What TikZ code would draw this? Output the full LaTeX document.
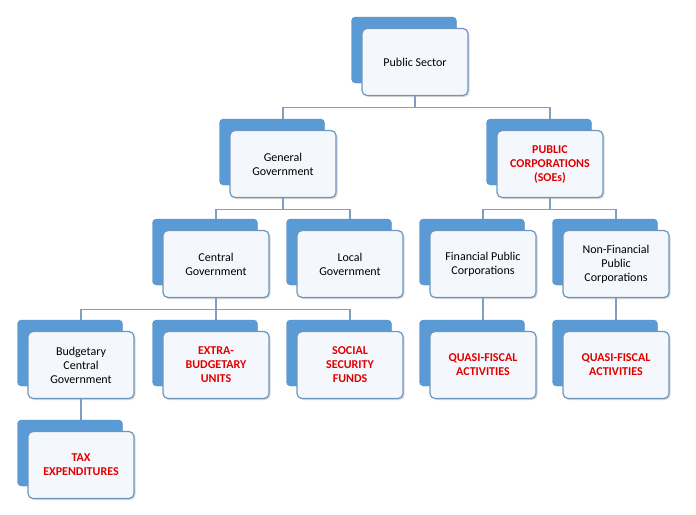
\documentclass[tikz,border=0pt]{standalone}
\usepackage{fontspec}
\setmainfont{Carlito}
\usetikzlibrary{positioning, shadows}
\definecolor{backblue}{HTML}{5B9BD5}
\definecolor{edgeblue}{HTML}{6E96BE}
\definecolor{linkblue}{HTML}{7F9FC0}
\definecolor{ssred}{HTML}{E00000}
\tikzset{
    back/.style={draw=backblue!90!black, fill=backblue, rounded corners=4pt,
        minimum width=105pt, minimum height=66pt},
    front/.style={draw=edgeblue, line width=1.2pt, fill=white!93!backblue, rounded corners=5pt,
        minimum width=106pt, minimum height=67pt, align=center, font=\fontsize{12}{14}\selectfont,
        drop shadow={shadow xshift=1.5pt, shadow yshift=-1.5pt, opacity=0.3}},
    hot/.style={text=ssred, font=\fontsize{12}{14}\selectfont\bfseries},
    link/.style={draw=linkblue, line width=1.2pt},
}
\newcommand{\orgbox}[5][]{%
    \node[back] (#2b) at (#3-11,#4-12) {};
    \node[front,#1] (#2) at (#3,#4) {#5};
}
\begin{document}
\begin{tikzpicture}[x=1pt,y=-1pt]
    \useasboundingbox (0,0) rectangle (696,514);
    \orgbox{ps}{415}{62}{Public Sector}
    \orgbox{gg}{283}{164}{General\\Government}
    \orgbox[hot]{pc}{550}{164}{PUBLIC\\CORPORATIONS\\(SOEs)}
    \orgbox{cg}{216}{264}{Central\\Government}
    \orgbox{lg}{350}{264}{Local\\Government}
    \orgbox{fpc}{483}{264}{Financial Public\\Corporations}
    \orgbox{nfpc}{616}{264}{Non-Financial\\Public\\Corporations}
    \orgbox{bcg}{81}{365}{Budgetary\\Central\\Government}
    \orgbox[hot]{ebu}{216}{365}{EXTRA-\\BUDGETARY\\UNITS}
    \orgbox[hot]{ssf}{350}{365}{SOCIAL\\SECURITY\\FUNDS}
    \orgbox[hot]{qf1}{483}{365}{QUASI-FISCAL\\ACTIVITIES}
    \orgbox[hot]{qf2}{616}{365}{QUASI-FISCAL\\ACTIVITIES}
    \orgbox[hot]{tax}{81}{465}{TAX\\EXPENDITURES}
    % connectors
    \begin{scope}[on background layer/.try]
    \draw[link] (ps.south) -- ++(0,11) -| (ggb.north -| gg.north);
    \draw[link] (ps.south) ++(0,11) -| (pcb.north -| pc.north);
    \draw[link] (gg.south) -- ++(0,11) -| (cgb.north -| cg.north);
    \draw[link] (gg.south) ++(0,11) -| (lgb.north -| lg.north);
    \draw[link] (pc.south) -- ++(0,11) -| (fpcb.north -| fpc.north);
    \draw[link] (pc.south) ++(0,11) -| (nfpcb.north -| nfpc.north);
    \draw[link] (cg.south) -- ++(0,11) -| (bcgb.north -| bcg.north);
    \draw[link] (cg.south) ++(0,11) -| (ebub.north -| ebu.north);
    \draw[link] (cg.south) ++(0,11) -| (ssfb.north -| ssf.north);
    \draw[link] (fpc.south) -- (qf1b.north -| fpc.south);
    \draw[link] (nfpc.south) -- (qf2b.north -| nfpc.south);
    \draw[link] (bcg.south) -- (taxb.north -| bcg.south);
    \end{scope}
\end{tikzpicture}
\end{document}
